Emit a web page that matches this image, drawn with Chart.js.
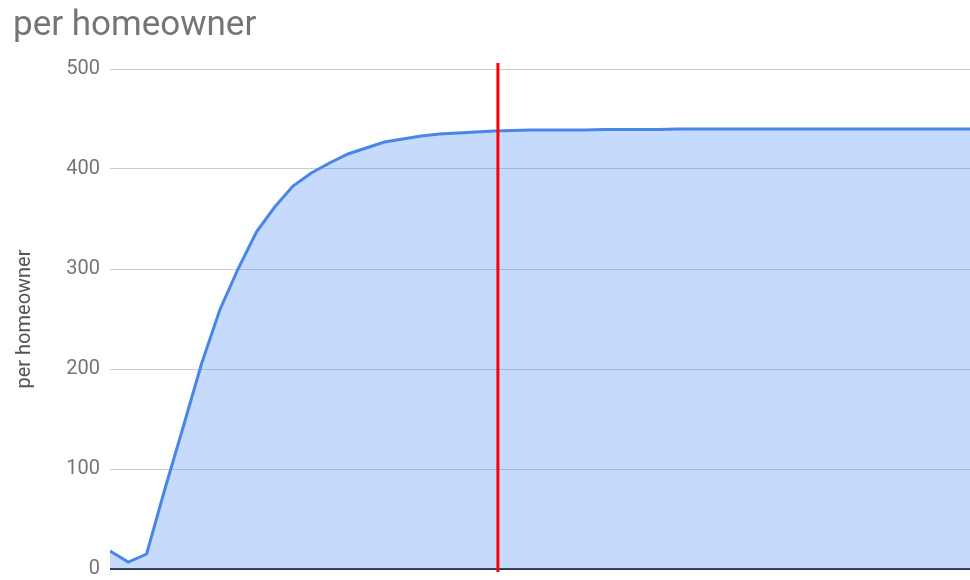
<!DOCTYPE html>
<html>
<head>
<meta charset="utf-8">
<script src="https://cdn.jsdelivr.net/npm/chart.js@4.4.1/dist/chart.umd.min.js"></script>
<style>
  html, body { margin: 0; padding: 0; background: #fff; }
  #wrap { width: 970px; height: 580px; }
</style>
</head>
<body>
<div id="wrap"><canvas id="chart" width="970" height="580"></canvas></div>
<script>
// values, one per step along the x axis
const steps = [0,1,2,3,4,5,6,7,8,9,10,11,12,13,14,15,16,17,18,19,20,21,22,23,24,25,26,27,28,29,30,31,32,33,34,35,36,37,38,39,40,41,42,43,44,45,46,47];
const perHomeowner = [18,7,15,80,142,205,259,300,337,362,383,396,406,415,421,427,430,433,435,436,437,438,
  438.5,439,439,439,439,439.5,439.5,439.5,439.5,440,440,440,440,440,440,440,440,440,440,440,440,440,440,440,440,440];
const yTicks = [0,100,200,300,400,500];
const markerX = 21.2;
const markerY = [-3, 506];

const points = steps.map((s, i) => ({ x: s, y: perHomeowner[i] }));
const marker = markerY.map(v => ({ x: markerX, y: v }));

new Chart(document.getElementById('chart'), {
    type: 'line',
    data: {
        datasets: [
            { data: marker, borderColor: '#ff0000', borderWidth: 3, pointRadius: 0, fill: false, clip: false, order: 0 },
            { data: points, borderColor: '#4a86e8', backgroundColor: 'rgba(66,133,244,0.3)', borderWidth: 3,
              pointRadius: 0, fill: 'origin', tension: 0, order: 1 }
        ]
    },
    options: {
        responsive: false, animation: false, events: [],
        layout: { padding: { left: 13, right: 0, top: 0, bottom: 11 } },
        plugins: {
            legend: { display: false }, tooltip: { enabled: false },
            title: { display: true, text: 'per homeowner', align: 'start', color: '#757575',
                     font: { family: 'Roboto', size: 35, weight: 'normal', lineHeight: 1.2 },
                     padding: { top: 5, bottom: 22 } }
        },
        scales: {
            x: { type: 'linear', display: false, min: 0, max: 47 },
            y: {
                min: 0, max: 500,
                afterFit(s) { s.width = 97; s.paddingTop = 0; s.paddingBottom = 0; },
                afterBuildTicks(s) { s.ticks = yTicks.map(v => ({ value: v })); },
                border: { display: false },
                grid: { drawTicks: false, color: c => c.tick && c.tick.value === 0 ? '#333333' : '#cccccc',
                        lineWidth: c => c.tick && c.tick.value === 0 ? 2 : 1 },
                ticks: { padding: 10, color: '#757575', font: { family: 'Roboto', size: 20 } },
                title: { display: true, text: 'per homeowner', color: '#555555', padding: { top: 0, bottom: 0 },
                         font: { family: 'Roboto', size: 20 } }
            }
        }
    }
});
</script>
</body>
</html>
